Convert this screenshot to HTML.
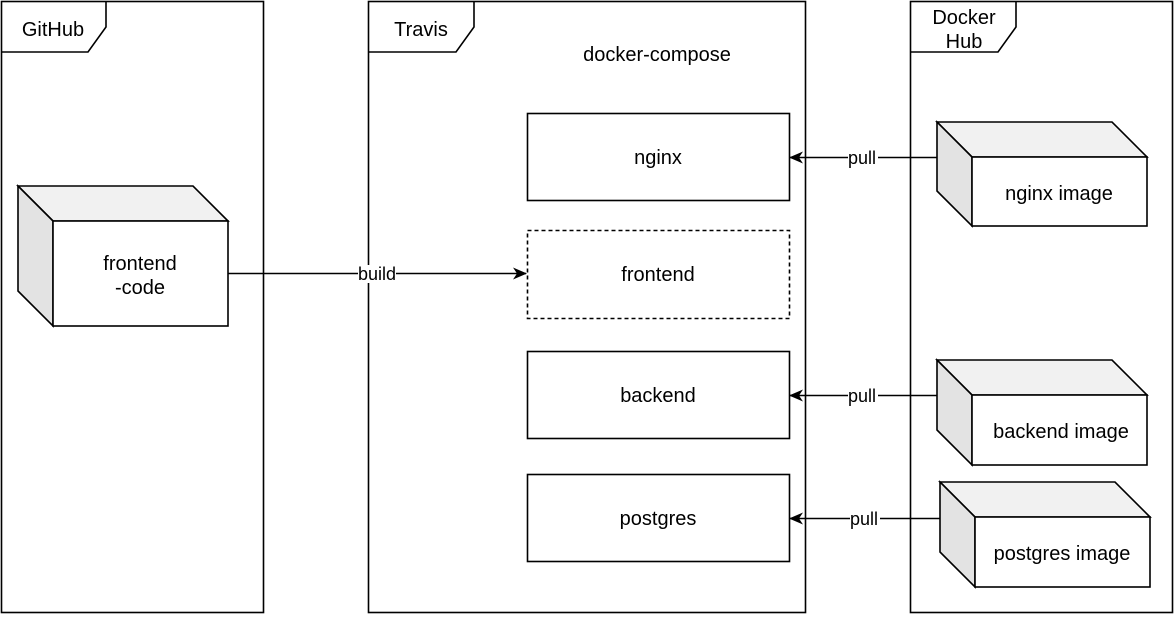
<!DOCTYPE html>
<html><head><meta charset="utf-8"><style>html,body{margin:0;padding:0;background:#fff}</style></head><body>
<svg width="1175" height="615" xmlns="http://www.w3.org/2000/svg" font-family="Liberation Sans, sans-serif" font-size="20">
<defs><marker id="a" markerWidth="14" markerHeight="12" refX="13" refY="6" orient="auto" markerUnits="userSpaceOnUse"><path d="M0,0 L14,6 L0,12 L4,6 Z" fill="#000"/></marker></defs>
<g fill="none" stroke="#000" stroke-width="1.6">
<rect x="1.5" y="1.5" width="262" height="611" fill="#fff"/>
<path d="M1.5,52 H88 L106,27 V1.5"/>
<rect x="368.5" y="1.5" width="437" height="611" fill="#fff"/>
<path d="M368.5,52 H456 L474,27 V1.5"/>
<rect x="910.5" y="1.5" width="262" height="611" fill="#fff"/>
<path d="M910.5,52 H998 L1016,27 V1.5"/>
</g>
<g font-size="20" text-anchor="middle">
<text x="53" y="36">GitHub</text>
<text x="421" y="36">Travis</text>
<text x="964" y="24">Docker</text>
<text x="964" y="48">Hub</text>
<text x="657" y="61">docker-compose</text>
</g>
<g stroke="#000" stroke-width="1.6">
<path d="M18,186 H193 L228,221 H53 Z" fill="#f1f1f1"/>
<path d="M18,186 L53,221 V326 L18,291 Z" fill="#e3e3e3"/>
<rect x="53" y="221" width="175" height="105" fill="#fff"/>
<path d="M937,122 H1112 L1147,157 H972 Z" fill="#f1f1f1"/>
<path d="M937,122 L972,157 V226 L937,191 Z" fill="#e3e3e3"/>
<rect x="972" y="157" width="175" height="69" fill="#fff"/>
<path d="M937,360 H1112 L1147,395 H972 Z" fill="#f1f1f1"/>
<path d="M937,360 L972,395 V465 L937,430 Z" fill="#e3e3e3"/>
<rect x="972" y="395" width="175" height="70" fill="#fff"/>
<path d="M940,482 H1115 L1150,517 H975 Z" fill="#f1f1f1"/>
<path d="M940,482 L975,517 V587 L940,552 Z" fill="#e3e3e3"/>
<rect x="975" y="517" width="175" height="70" fill="#fff"/>
<rect x="527.5" y="113.5" width="262" height="87" fill="#fff"/>
<rect x="527.5" y="230.5" width="262" height="88" fill="#fff" stroke-dasharray="4,3"/>
<rect x="527.5" y="351.5" width="262" height="87" fill="#fff"/>
<rect x="527.5" y="474.5" width="262" height="87" fill="#fff"/>
<line x1="228" y1="273.5" x2="526" y2="273.5" marker-end="url(#a)"/>
<line x1="937" y1="157.5" x2="790" y2="157.5" marker-end="url(#a)"/>
<line x1="937" y1="395.5" x2="790" y2="395.5" marker-end="url(#a)"/>
<line x1="940" y1="518.5" x2="790" y2="518.5" marker-end="url(#a)"/>
</g>
<g font-size="18" text-anchor="middle">
<rect x="358" y="265" width="38" height="18" fill="#fff"/>
<text x="377" y="280">build</text>
<rect x="848" y="149" width="30" height="18" fill="#fff"/>
<text x="862" y="164">pull</text>
<rect x="848" y="387" width="30" height="18" fill="#fff"/>
<text x="862" y="402">pull</text>
<rect x="850" y="510" width="30" height="18" fill="#fff"/>
<text x="864" y="525">pull</text>
</g>
<g font-size="20" text-anchor="middle">
<text x="140" y="270">frontend</text>
<text x="140" y="294">-code</text>
<text x="1059" y="200">nginx image</text>
<text x="1061" y="438">backend image</text>
<text x="1062" y="560">postgres image</text>
<text x="658" y="164">nginx</text>
<text x="658" y="281">frontend</text>
<text x="658" y="402">backend</text>
<text x="658" y="525">postgres</text>
</g>
</svg>
</body></html>
